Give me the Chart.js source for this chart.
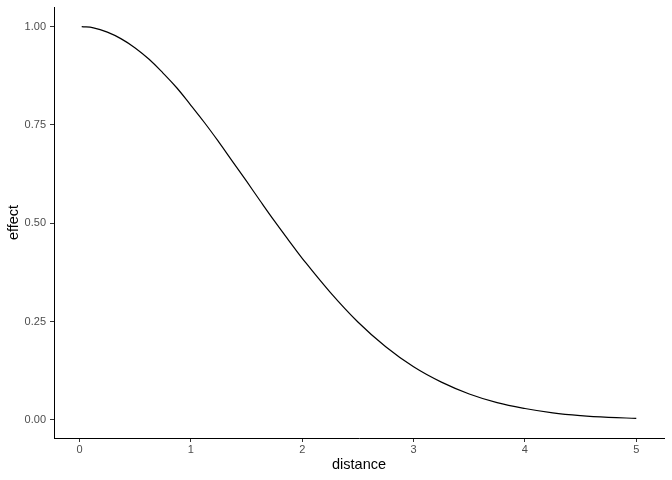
<!DOCTYPE html>
<html>
<head>
<meta charset="utf-8">
<script src="https://cdn.jsdelivr.net/npm/chart.js@4.4.1/dist/chart.umd.min.js"></script>
<style>
  body { margin: 0; background: #fff; }
  #wrap { width: 672px; height: 480px; }
</style>
</head>
<body>
<div id="wrap"><canvas id="mycanvas" width="672" height="480"></canvas></div>
<script>
// values
var distance = [0.02, 0.125, 0.25, 0.375, 0.5, 0.625, 0.75, 0.875, 1.0, 1.125, 1.25,
	1.375, 1.5, 1.625, 1.75, 1.875, 2.0, 2.25, 2.5, 2.75, 3.0, 3.25, 3.5, 3.75,
	4.0, 4.25, 4.5, 4.75, 5.0];
var effect = [1.000, 0.997, 0.986, 0.969, 0.946, 0.917, 0.882, 0.844, 0.800, 0.755, 0.707,
	0.657, 0.607, 0.556, 0.506, 0.458, 0.411, 0.325, 0.249, 0.186, 0.135, 0.096, 0.066, 0.044,
	0.029, 0.018, 0.011, 0.0066, 0.004];

var xTicks = [0, 1, 2, 3, 4, 5];
var yTicks = [0, 0.25, 0.5, 0.75, 1.0];

var points = [];
for (var i in distance) {
	points.push({ x: distance[i], y: effect[i] });
}

var font = "'Liberation Sans', Arial, Helvetica, sans-serif";

var ctx = document.getElementById("mycanvas");

var lineGraph = new Chart(ctx, {
	type: 'line',
	data: {
		datasets: [
			{
				label: 'effect',
				data: points,
				fill: false,
				borderColor: "#000000",
				borderWidth: 1.2,
				pointRadius: 0,
				tension: 0.4
			}
		]
	},
	options: {
		responsive: false,
		devicePixelRatio: 1,
		animation: false,
		layout: { padding: { top: 7, right: 8, left: 0, bottom: 0 } },
		plugins: {
			legend: { display: false },
			tooltip: { enabled: false }
		},
		scales: {
			x: {
				type: 'linear',
				min: -0.229,
				max: 5.249,
				afterFit: function (scale) {
					scale.height = 42;
					scale.paddingLeft = 0;
					scale.paddingRight = 0;
				},
				afterBuildTicks: function (scale) {
					scale.ticks = xTicks.map(function (v) { return { value: v }; });
				},
				grid: {
					drawOnChartArea: false,
					drawTicks: true,
					tickLength: 4,
					tickColor: "#333333"
				},
				border: { display: true, color: "#000000", width: 1 },
				ticks: {
					padding: 1,
					color: "#4d4d4d",
					font: { family: font, size: 11 },
					maxRotation: 0,
					callback: function (v) { return String(v); }
				},
				title: {
					display: true,
					text: 'distance',
					color: "#000000",
					font: { family: font, size: 14.5 },
					padding: { top: 0, bottom: 6.3 }
				}
			},
			y: {
				type: 'linear',
				min: -0.046,
				max: 1.05,
				afterFit: function (scale) {
					scale.width = 54;
					scale.paddingTop = 0;
					scale.paddingBottom = 0;
				},
				afterBuildTicks: function (scale) {
					scale.ticks = yTicks.map(function (v) { return { value: v }; });
				},
				grid: {
					drawOnChartArea: false,
					drawTicks: true,
					tickLength: 4,
					tickColor: "#333333"
				},
				border: { display: true, color: "#000000", width: 1 },
				ticks: {
					padding: 4,
					color: "#4d4d4d",
					font: { family: font, size: 11 },
					callback: function (v) { return Number(v).toFixed(2); }
				},
				title: {
					display: true,
					text: 'effect',
					color: "#000000",
					font: { family: font, size: 14.5 },
					padding: { top: 5.3, bottom: 0 }
				}
			}
		}
	}
});
</script>
</body>
</html>
